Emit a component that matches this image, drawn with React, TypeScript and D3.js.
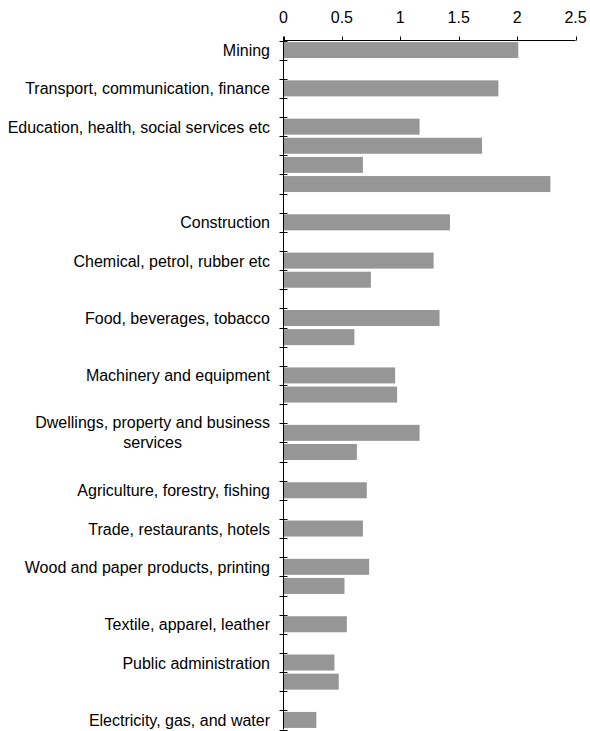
import React, { useEffect, useRef } from "react";
import * as d3 from "d3";

const categories: string[] = [
  "Mining", "",
  "Transport, communication, finance", "",
  "Education, health, social services etc", "", "", "", "",
  "Construction", "",
  "Chemical, petrol, rubber etc", "", "",
  "Food, beverages, tobacco", "", "",
  "Machinery and equipment", "", "",
  "Dwellings, property and business services", "", "",
  "Agriculture, forestry, fishing", "",
  "Trade, restaurants, hotels", "",
  "Wood and paper products, printing", "", "",
  "Textile, apparel, leather", "",
  "Public administration", "", "",
  "Electricity, gas, and water",
];

const values: (number | null)[] = [
  2.01, null,
  1.84, null,
  1.165, 1.70, 0.68, 2.285, null,
  1.425, null,
  1.285, 0.748, null,
  1.336, 0.607, null,
  0.956, 0.973, null,
  1.165, 0.628, null,
  0.713, null,
  0.68, null,
  0.733, 0.522, null,
  0.542, null,
  0.436, 0.473, null,
  0.281,
];

const xTicks: number[] = [0, 0.5, 1, 1.5, 2, 2.5];
const xTickLabels: string[] = ["0", "0.5", "1", "1.5", "2", "2.5"];

const W = 590;
const H = 731;
const FONT = "'Liberation Sans', Arial, sans-serif";

export default function App() {
  const ref = useRef<SVGSVGElement | null>(null);

  useEffect(() => {
    const svg = d3.select(ref.current);
    svg.selectAll("*").remove();

    const left = 283.5;
    const right = 575.5;
    const top = 40.5;
    const bottom = 729.5;
    const labelRight = 270;
    const maxLabelW = 272;

    const x = d3.scaleLinear().domain([0, 2.5]).range([left, right]);
    const idx = categories.map((_, i) => String(i));
    const y = d3
      .scaleBand<string>()
      .domain(idx)
      .range([top, bottom])
      .paddingInner(0.164)
      .paddingOuter(0.082);
    const step = y.step();

    // bars
    svg
      .append("g")
      .selectAll("rect")
      .data(values.map((v, i) => ({ v, i })).filter((d) => d.v !== null))
      .join("rect")
      .attr("x", x(0))
      .attr("y", (d) => y(String(d.i)) as number)
      .attr("width", (d) => x(d.v as number) - x(0))
      .attr("height", y.bandwidth())
      .attr("fill", "#969696");

    // top axis line
    svg
      .append("line")
      .attr("x1", left)
      .attr("x2", right)
      .attr("y1", top)
      .attr("y2", top)
      .attr("stroke", "#000")
      .attr("stroke-width", 1);

    // x ticks
    const gx = svg.append("g");
    xTicks.forEach((t, k) => {
      gx.append("line")
        .attr("x1", Math.round(x(t)) + 0.5)
        .attr("x2", Math.round(x(t)) + 0.5)
        .attr("y1", top - 4)
        .attr("y2", top)
        .attr("stroke", "#000");
      gx.append("text")
        .attr("x", x(t))
        .attr("y", 23.3)
        .attr("text-anchor", "middle")
        .attr("font-family", FONT)
        .attr("font-size", 16)
        .attr("fill", "#000")
        .text(xTickLabels[k]);
    });

    // y axis line
    svg
      .append("line")
      .attr("x1", left)
      .attr("x2", left)
      .attr("y1", top - 4)
      .attr("y2", bottom)
      .attr("stroke", "#000");

    // y ticks at band boundaries
    const boundaries = d3.range(categories.length + 1).map((i) => top + i * step);
    svg
      .append("g")
      .selectAll("line")
      .data(boundaries)
      .join("line")
      .attr("x1", left - 4)
      .attr("x2", left + 4)
      .attr("y1", (d) => Math.round(d) + 0.5)
      .attr("y2", (d) => Math.round(d) + 0.5)
      .attr("stroke", "#000");

    // category labels with wrapping
    const gl = svg.append("g");
    categories.forEach((c, i) => {
      if (!c) return;
      const cy = (y(String(i)) as number) + y.bandwidth() / 2;
      const t = gl
        .append("text")
        .attr("font-family", FONT)
        .attr("font-size", 16)
        .attr("fill", "#000")
        .attr("text-anchor", "end")
        .attr("x", labelRight)
        .attr("y", cy + 6)
        .text(c);
      const node = t.node() as SVGTextElement;
      if (node.getComputedTextLength() <= maxLabelW) return;
      // wrap
      const words = c.split(" ");
      const lines: string[] = [];
      let cur = "";
      words.forEach((w) => {
        const test = cur ? cur + " " + w : w;
        t.text(test);
        if (node.getComputedTextLength() > maxLabelW && cur) {
          lines.push(cur);
          cur = w;
        } else {
          cur = test;
        }
      });
      if (cur) lines.push(cur);
      const widths = lines.map((l) => {
        t.text(l);
        return node.getComputedTextLength();
      });
      t.remove();
      const maxW = d3.max(widths) as number;
      const cx = labelRight - maxW / 2;
      const lh = 20;
      const y0 = cy + 6 - ((lines.length - 1) * lh) / 2 - 1;
      lines.forEach((l, k) => {
        gl.append("text")
          .attr("font-family", FONT)
          .attr("font-size", 16)
          .attr("fill", "#000")
          .attr("text-anchor", "middle")
          .attr("x", cx)
          .attr("y", y0 + k * lh)
          .text(l);
      });
    });
  }, []);

  return (
    <svg
      ref={ref}
      width={W}
      height={H}
      style={{ position: "absolute", left: 0, top: 0, background: "#fff" }}
    />
  );
}
